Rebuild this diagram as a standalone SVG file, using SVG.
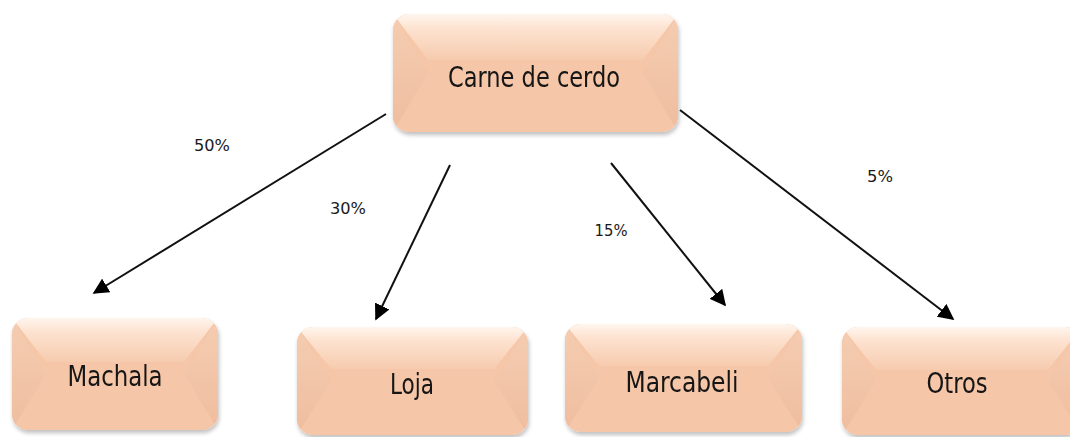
<svg xmlns="http://www.w3.org/2000/svg" width="1070" height="437" viewBox="0 0 1070 437">
<defs>
<linearGradient id="top" x1="0" y1="0" x2="0" y2="1"><stop offset="0" stop-color="#fff6ee"/><stop offset="0.3" stop-color="#fde3d1"/><stop offset="1" stop-color="#f6cbae"/></linearGradient>
<linearGradient id="side" x1="0" y1="0" x2="0" y2="1"><stop offset="0" stop-color="#f5cdb2"/><stop offset="1" stop-color="#efbd9e"/></linearGradient>
<filter id="sh" x="-10%" y="-10%" width="120%" height="130%"><feGaussianBlur in="SourceAlpha" stdDeviation="2"/><feOffset dx="1" dy="3"/><feComponentTransfer><feFuncA type="linear" slope="0.25"/></feComponentTransfer><feMerge><feMergeNode/><feMergeNode in="SourceGraphic"/></feMerge></filter>
<marker id="ah" viewBox="0 0 10 10" refX="9" refY="5" markerWidth="8" markerHeight="8" orient="auto"><path d="M0,0 L10,5 L0,10 z" fill="#000"/></marker>
<clipPath id="cC"><rect x="393" y="14" width="285" height="118" rx="16"/></clipPath>
<clipPath id="cM"><rect x="12" y="318" width="206" height="112" rx="16"/></clipPath>
<clipPath id="cL"><rect x="297" y="327" width="231" height="108" rx="16"/></clipPath>
<clipPath id="cB"><rect x="565" y="324" width="237" height="108" rx="16"/></clipPath>
<clipPath id="cO"><rect x="842" y="327" width="240" height="108" rx="16"/></clipPath>
</defs>
<style>
.base{fill:#f5c6a7}
.tp{fill:url(#top)}
.sd{fill:url(#side)}
.lbl{font-family:"DejaVu Sans Condensed","DejaVu Sans",sans-serif;font-size:29px;fill:#151515;text-anchor:middle}
.pct{font-family:"DejaVu Sans Condensed","DejaVu Sans",sans-serif;font-size:15px;fill:#1a1a1a;text-anchor:middle}
.edge{stroke:#111;stroke-width:2;fill:none;marker-end:url(#ah)}
</style>
<g id="connectors">
<line class="edge" x1="386" y1="114" x2="94" y2="293"/>
<line class="edge" x1="450" y1="165" x2="376" y2="319"/>
<line class="edge" x1="611" y1="163" x2="725" y2="305"/>
<line class="edge" x1="680" y1="110" x2="953" y2="319"/>
<text class="pct" x="212" y="151" textLength="36" lengthAdjust="spacingAndGlyphs">50%</text>
<text class="pct" x="348" y="214" textLength="36" lengthAdjust="spacingAndGlyphs">30%</text>
<text class="pct" x="611" y="236" textLength="33" lengthAdjust="spacingAndGlyphs">15%</text>
<text class="pct" x="880" y="182" textLength="26" lengthAdjust="spacingAndGlyphs">5%</text>
</g>
<g id="node-carne" filter="url(#sh)">
<g clip-path="url(#cC)">
<rect class="base" x="393" y="14" width="285" height="118"/>
<polygon class="sd" points="393,14 428,73 393,132"/>
<polygon class="sd" points="678,14 643,73 678,132"/>
<polygon class="tp" points="393,14 678,14 643,60 428,60"/>
</g>
<text class="lbl" x="534" y="87" textLength="172" lengthAdjust="spacingAndGlyphs">Carne de cerdo</text>
</g>
<g id="node-machala" filter="url(#sh)">
<g clip-path="url(#cM)">
<rect class="base" x="12" y="318" width="206" height="112"/>
<polygon class="sd" points="12,318 46,374 12,430"/>
<polygon class="sd" points="218,318 184,374 218,430"/>
<polygon class="tp" points="12,318 218,318 184,362 46,362"/>
</g>
<text class="lbl" x="115" y="386" textLength="95" lengthAdjust="spacingAndGlyphs">Machala</text>
</g>
<g id="node-loja" filter="url(#sh)">
<g clip-path="url(#cL)">
<rect class="base" x="297" y="327" width="231" height="108"/>
<polygon class="sd" points="297,327 331,381 297,435"/>
<polygon class="sd" points="528,327 494,381 528,435"/>
<polygon class="tp" points="297,327 528,327 494,369 331,369"/>
</g>
<text class="lbl" x="412" y="394" textLength="44" lengthAdjust="spacingAndGlyphs">Loja</text>
</g>
<g id="node-marcabeli" filter="url(#sh)">
<g clip-path="url(#cB)">
<rect class="base" x="565" y="324" width="237" height="108"/>
<polygon class="sd" points="565,324 599,378 565,432"/>
<polygon class="sd" points="802,324 768,378 802,432"/>
<polygon class="tp" points="565,324 802,324 768,366 599,366"/>
</g>
<text class="lbl" x="682" y="392" textLength="113" lengthAdjust="spacingAndGlyphs">Marcabeli</text>
</g>
<g id="node-otros" filter="url(#sh)">
<g clip-path="url(#cO)">
<rect class="base" x="842" y="327" width="240" height="108"/>
<polygon class="sd" points="842,327 876,381 842,435"/>
<polygon class="sd" points="1082,327 1048,381 1082,435"/>
<polygon class="tp" points="842,327 1082,327 1048,370 876,370"/>
</g>
<text class="lbl" x="957" y="393" textLength="61" lengthAdjust="spacingAndGlyphs">Otros</text>
</g>
</svg>
